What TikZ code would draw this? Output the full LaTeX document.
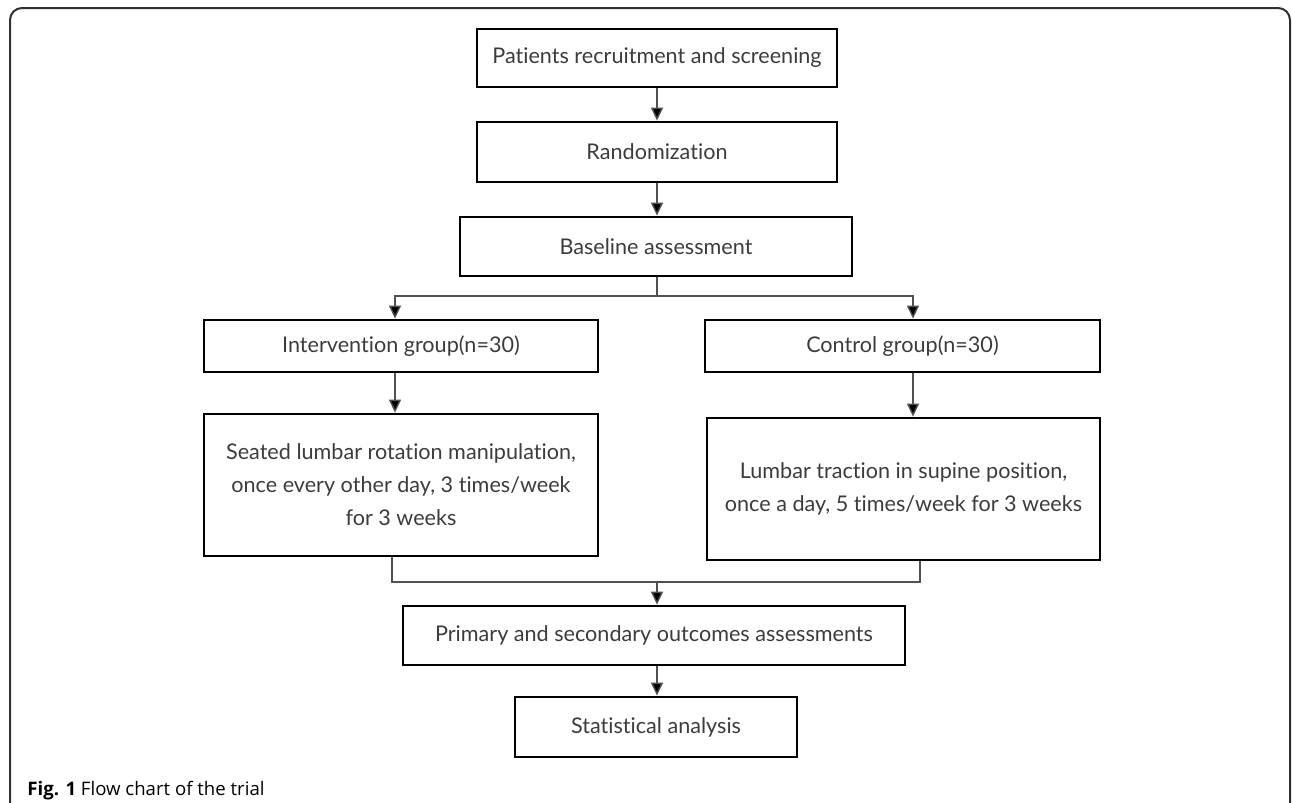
\documentclass[tikz,border=0pt]{standalone}
\usepackage{fontspec}
\setmainfont{Lato}[Ligatures={NoCommon,NoContextual}]
\newfontfamily\capfont{Open Sans}
\usetikzlibrary{arrows.meta}
\definecolor{txt}{HTML}{3C3C3C}
\definecolor{ln}{HTML}{505050}
\definecolor{frame}{HTML}{303030}
\begin{document}
\begin{tikzpicture}[x=0.5pt,y=-0.5pt,
  box/.style={draw=black, line width=1.4pt, text=txt, font=\fontsize{10.8}{16.5}\selectfont, align=center, inner sep=0pt},
  conn/.style={draw=ln, line width=0.7pt},
  arr/.style={conn, -{Triangle[length=6.5pt,width=6pt,fill=black]}}]
\useasboundingbox (0,0) rectangle (1292,803);
\begin{scope}
\clip (0,0) rectangle (1292,803);
\draw[frame, line width=1pt, rounded corners=6pt] (10,830) -- (10,8) -- (1290,8) -- (1290,830);
\end{scope}
\node[box, minimum width=180pt, minimum height=29pt] (P) at (657,58) {Patients recruitment and screening};
\node[box, minimum width=180pt, minimum height=30pt] (R) at (657,152) {Randomization};
\node[box, minimum width=196pt, minimum height=29.5pt] (B) at (656,246.5) {Baseline assessment};
\node[box, minimum width=197pt, minimum height=26pt] (I) at (401,346) {Intervention group(n=30)};
\node[box, minimum width=197.5pt, minimum height=26pt] (C) at (902.5,346) {Control group(n=30)};
\node[box, minimum width=197pt, minimum height=71pt] (S) at (401,485) {Seated lumbar rotation manipulation,\\once every other day, 3 times/week\\for 3 weeks};
\node[box, minimum width=196.5pt, minimum height=71pt] (L) at (903.5,489) {Lumbar traction in supine position,\\once a day, 5 times/week for 3 weeks};
\node[box, minimum width=251pt, minimum height=29.5pt] (Pr) at (654,635.5) {Primary and secondary outcomes assessments};
\node[box, minimum width=141pt, minimum height=30pt] (St) at (656,727) {Statistical analysis};
\node[anchor=base west, inner sep=0pt, font=\capfont\fontsize{9.3}{11}\selectfont, text=black] (cap) at (27,795) {\textbf{Fig. 1} Flow chart of the trial};
\coordinate (bl) at (395,296);
\coordinate (bm) at (657,296);
\coordinate (brt) at (913,296);
\coordinate (ml) at (392,582);
\coordinate (mm) at (657,582);
\coordinate (mr) at (920,582);
\draw[arr] (P.south -| bm) -- (R.north -| bm);
\draw[arr] (R.south -| bm) -- (B.north -| bm);
\draw[conn] (B.south -| bm) -- (bm);
\draw[arr] (bm) -- (bl) -- (bl |- I.north);
\draw[arr] (bm) -- (brt) -- (brt |- C.north);
\draw[arr] (I.south -| bl) -- (S.north -| bl);
\draw[arr] (C.south -| brt) -- (L.north -| brt);
\draw[conn] (S.south -| ml) -- (ml) -- (mr) -- (L.south -| mr);
\draw[arr] (mm) -- (Pr.north -| mm);
\draw[arr] (Pr.south -| mm) -- (St.north -| mm);
\end{tikzpicture}
\end{document}
